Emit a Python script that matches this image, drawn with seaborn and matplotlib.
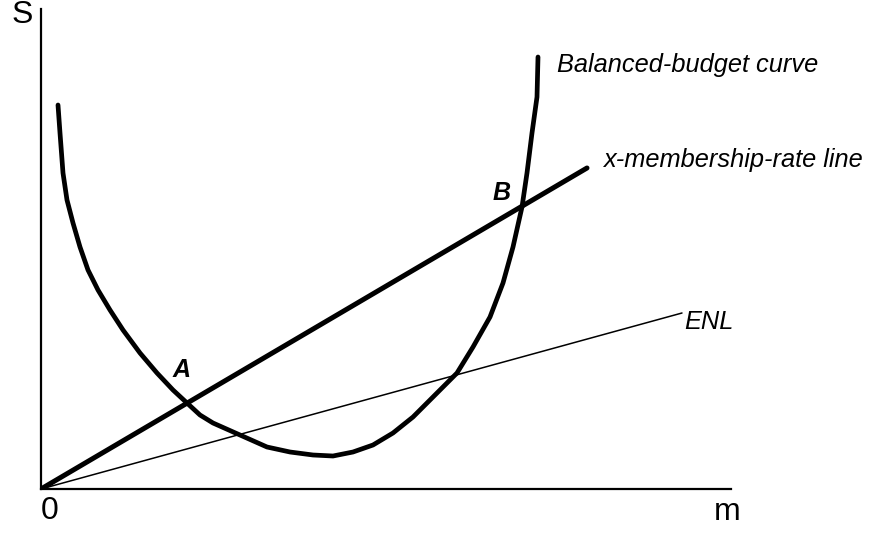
import matplotlib
matplotlib.use('Agg')
import matplotlib.pyplot as plt
import seaborn as sns
import pandas as pd

# Curva de presupuesto equilibrado (m, S)
bb_m = [17, 19, 22, 26, 32, 39, 47, 57, 69, 82, 99, 116, 132, 146, 159, 172,
        199, 226, 249, 272, 292, 312, 332, 352, 372, 392, 416, 432, 449, 462,
        472, 481, 486, 491, 496, 497]
bb_s = [384, 356, 316, 289, 266, 242, 219, 199, 179, 159, 136, 116, 99, 86, 74, 66,
        54, 42, 37, 34, 33, 37, 44, 56, 72, 92, 116, 142, 172, 206,
        242, 282, 316, 356, 392, 432]

# Lineas rectas desde el origen
xm_m = [0, 546]
xm_s = [0, 321]
enl_m = [0, 641]
enl_s = [0, 176]

sns.set_theme(style='white')
plt.rcParams['font.family'] = ['Liberation Sans', 'DejaVu Sans']
plt.rcParams['text.color'] = 'black'

fig = plt.figure(figsize=(8.74, 5.33), dpi=100)
ax = fig.add_axes([41 / 874, 44 / 533, 690 / 874, 480 / 533])

curve = pd.DataFrame({'m': bb_m, 'S': bb_s})
sns.lineplot(data=curve, x='m', y='S', sort=False, estimator=None,
             color='black', lw=3.4, ax=ax)
sns.lineplot(x=xm_m, y=xm_s, estimator=None, color='black', lw=3.6, ax=ax)
sns.lineplot(x=enl_m, y=enl_s, estimator=None, color='black', lw=1.1, ax=ax)

ax.set_xlim(0, 690)
ax.set_ylim(0, 480)
ax.set_xticks([])
ax.set_yticks([])
ax.set_xlabel('')
ax.set_ylabel('')
sns.despine(ax=ax)
for side in ['left', 'bottom']:
    ax.spines[side].set_linewidth(1.6)
    ax.spines[side].set_color('black')

ax.text(516, 424, 'Balanced-budget curve', style='italic', fontsize=18.3, va='center', ha='left')
ax.text(562, 329, 'x-membership-rate line', style='italic', fontsize=18.3, va='center', ha='left')
ax.text(643, 167, 'ENL', style='italic', fontsize=18.3, va='center', ha='left')
ax.text(452, 296, 'B', style='italic', weight='bold', fontsize=18, va='center', ha='left')
ax.text(132, 119, 'A', style='italic', weight='bold', fontsize=18, va='center', ha='left')

fig.text(22 / 874, 1 - 15 / 533, 'S', fontsize=23, ha='center', va='center')
fig.text(50 / 874, 1 - 511 / 533, '0', fontsize=23, ha='center', va='center')
fig.text(727 / 874, 1 - 512 / 533, 'm', fontsize=23, ha='center', va='center')

fig.savefig('out.png', dpi=100)
